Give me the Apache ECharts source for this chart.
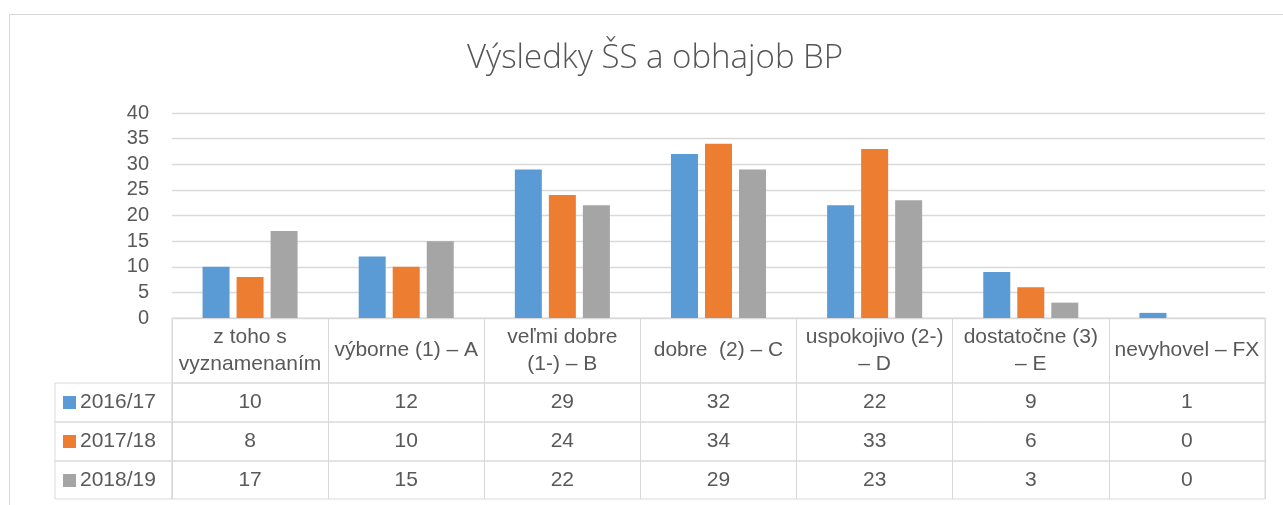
<!DOCTYPE html>
<html>
<head>
<meta charset="utf-8">
<script src="https://cdn.jsdelivr.net/npm/echarts@6/dist/echarts.min.js"></script>
<style>
  html, body { margin: 0; padding: 0; background: #fff; }
  .frame { position: absolute; left: 9px; top: 14px; width: 1290px; height: 500px; border: 1px solid #d9d9d9; }
  #chart { position: absolute; left: 0; top: 0; width: 1283px; height: 505px; }
</style>
</head>
<body>
<div class="frame"></div>
<div id="chart"></div>
<script>
// chart data
const title = 'Výsledky ŠS a obhajob BP';
const categories = [
  'z toho s\nvyznamenaním',
  'výborne (1) – A',
  'veľmi dobre\n(1-) – B',
  'dobre  (2) – C',
  'uspokojivo (2-)\n– D',
  'dostatočne (3)\n– E',
  'nevyhovel – FX'
];
const years = ['2016/17', '2017/18', '2018/19'];
const values2016 = [10, 12, 29, 32, 22, 9, 1];
const values2017 = [8, 10, 24, 34, 33, 6, 0];
const values2018 = [17, 15, 22, 29, 23, 3, 0];
const yTicks = { min: 0, max: 40, interval: 5 };

const seriesValues = [values2016, values2017, values2018];
const colors = ['#5B9BD5', '#ED7D31', '#A5A5A5'];
const textColor = '#595959';
const lineColor = '#d9d9d9';
const font = 'Liberation Sans, Arial, sans-serif';

// layout of plot + data table
const plotLeft = 172, plotRight = 18;
const plotTop = 113, plotBottom = 318;
const headerH = 65;
const rowH = [39, 39, 38];
const legendLeft = 55;

const rowTops = [];
let t = plotBottom + headerH;
rowH.forEach(h => { rowTops.push(t); t += h; });

const chart = echarts.init(document.getElementById('chart'));

const grids = [
  { left: plotLeft, right: plotRight, top: plotTop, height: plotBottom - plotTop },
  { left: plotLeft, right: plotRight, top: plotBottom, height: headerH, show: true, borderColor: lineColor, borderWidth: 1 }
];
rowTops.forEach((top, i) => {
  grids.push({ left: plotLeft, right: plotRight, top: top, height: rowH[i], show: true, borderColor: lineColor, borderWidth: 1 });
});
rowTops.forEach((top, i) => {
  grids.push({ left: legendLeft, width: plotLeft - legendLeft, top: top, height: rowH[i], show: true, borderColor: lineColor, borderWidth: 1 });
});

const tableAxis = (gridIndex, margin, formatter) => ({
  type: 'category',
  gridIndex: gridIndex,
  data: categories,
  position: 'top',
  axisLine: { show: false },
  axisTick: { show: false },
  splitLine: { show: true, interval: 0, lineStyle: { color: lineColor, width: 1 } },
  axisLabel: {
    inside: true,
    interval: 0,
    margin: margin,
    verticalAlign: 'middle',
    align: 'center',
    color: textColor,
    fontFamily: font,
    fontSize: 21,
    lineHeight: 27,
    formatter: formatter
  }
});

const xAxes = [
  {
    type: 'category',
    gridIndex: 0,
    data: categories,
    axisLine: { show: false },
    axisTick: { show: false },
    axisLabel: { show: false }
  },
  tableAxis(1, headerH / 2)
];
seriesValues.forEach((vals, k) => {
  xAxes.push(tableAxis(2 + k, rowH[k] / 2, (v, i) => String(vals[i])));
});
for (let k = 0; k < 3; k++) {
  xAxes.push({ type: 'category', gridIndex: 5 + k, data: [''], show: false });
}

const yAxes = [
  {
    type: 'value',
    gridIndex: 0,
    min: yTicks.min,
    max: yTicks.max,
    interval: yTicks.interval,
    axisLine: { show: false },
    axisTick: { show: false },
    splitLine: { lineStyle: { color: lineColor, width: 1.3 } },
    axisLabel: { color: textColor, fontFamily: font, fontSize: 20, margin: 23 }
  }
];
for (let g = 1; g < grids.length; g++) {
  yAxes.push({ type: 'value', gridIndex: g, show: false });
}

chart.setOption({
  animation: false,
  color: colors,
  title: {
    text: title,
    left: 462,
    top: 37,
    textStyle: { fontFamily: 'Open Sans, sans-serif', fontWeight: 300, fontSize: 33, color: '#555' }
  },
  legend: {
    data: years,
    orient: 'vertical',
    left: 63,
    top: rowTops[0] + rowH[0] / 2 - 10.5,
    padding: 0,
    itemGap: 18,
    itemWidth: 13,
    itemHeight: 13,
    icon: 'rect',
    textStyle: { color: textColor, fontFamily: font, fontSize: 21, lineHeight: 21, padding: [0, 0, 0, -1] }
  },
  grid: grids,
  xAxis: xAxes,
  yAxis: yAxes,
  series: seriesValues.map((vals, k) => ({
    name: years[k],
    type: 'bar',
    xAxisIndex: 0,
    yAxisIndex: 0,
    data: vals,
    barWidth: 27,
    barGap: '26%',
    itemStyle: { color: colors[k] }
  }))
});
</script>
</body>
</html>
